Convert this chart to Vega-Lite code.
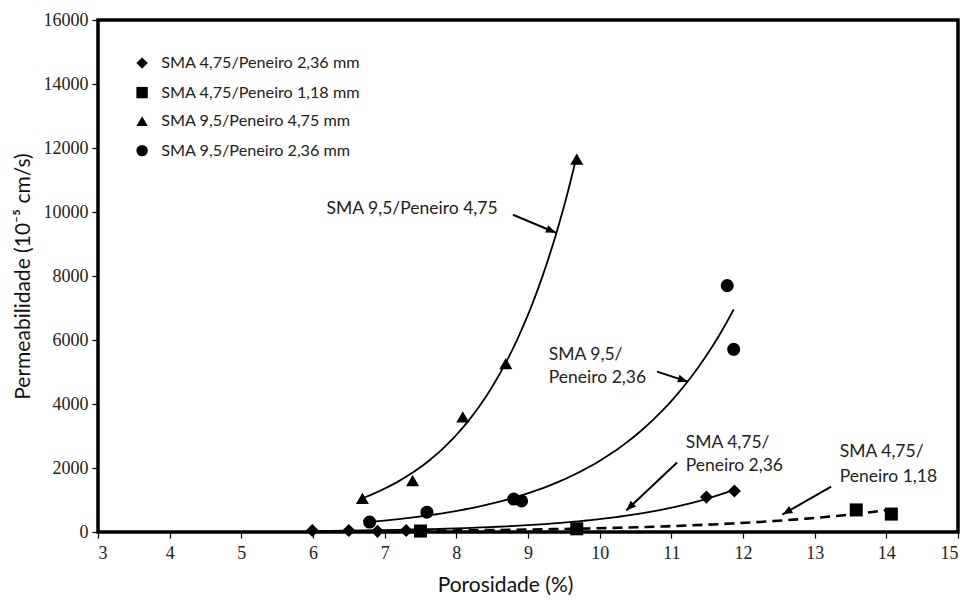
{
  "$schema": "https://vega.github.io/schema/vega-lite/v6.json",
  "width": 860,
  "height": 512,
  "autosize": "none",
  "padding": {"left": 98, "top": 20, "right": 10, "bottom": 69},
  "background": "white",
  "config": {
    "view": {"stroke": "black", "strokeWidth": 3.5},
    "axis": {
      "grid": false,
      "domain": false,
      "tickColor": "black",
      "tickSize": 6,
      "tickWidth": 1.2,
      "labelFont": "Liberation Sans Narrow",
      "labelFontSize": 18,
      "labelColor": "#222222",
      "labelPadding": 4,
      "titleFont": "Lato",
      "titleFontSize": 21,
      "titleFontWeight": "normal",
      "titleColor": "#111111"
    }
  },
  "datasets": {
    "medidas": [
      {"serie": "SMA 4,75/Peneiro 2,36 mm", "porosidade": 5.99, "permeabilidade": 50},
      {"serie": "SMA 4,75/Peneiro 2,36 mm", "porosidade": 6.50, "permeabilidade": 50},
      {"serie": "SMA 4,75/Peneiro 2,36 mm", "porosidade": 6.90, "permeabilidade": 20},
      {"serie": "SMA 4,75/Peneiro 2,36 mm", "porosidade": 7.30, "permeabilidade": 50},
      {"serie": "SMA 4,75/Peneiro 2,36 mm", "porosidade": 11.49, "permeabilidade": 1090},
      {"serie": "SMA 4,75/Peneiro 2,36 mm", "porosidade": 11.88, "permeabilidade": 1280},
      {"serie": "SMA 4,75/Peneiro 1,18 mm", "porosidade": 7.50, "permeabilidade": 30},
      {"serie": "SMA 4,75/Peneiro 1,18 mm", "porosidade": 9.68, "permeabilidade": 100},
      {"serie": "SMA 4,75/Peneiro 1,18 mm", "porosidade": 13.58, "permeabilidade": 690},
      {"serie": "SMA 4,75/Peneiro 1,18 mm", "porosidade": 14.07, "permeabilidade": 560},
      {"serie": "SMA 9,5/Peneiro 4,75 mm", "porosidade": 6.69, "permeabilidade": 1050},
      {"serie": "SMA 9,5/Peneiro 4,75 mm", "porosidade": 7.39, "permeabilidade": 1610},
      {"serie": "SMA 9,5/Peneiro 4,75 mm", "porosidade": 8.09, "permeabilidade": 3600},
      {"serie": "SMA 9,5/Peneiro 4,75 mm", "porosidade": 8.69, "permeabilidade": 5260},
      {"serie": "SMA 9,5/Peneiro 4,75 mm", "porosidade": 9.68, "permeabilidade": 11650},
      {"serie": "SMA 9,5/Peneiro 2,36 mm", "porosidade": 6.79, "permeabilidade": 310},
      {"serie": "SMA 9,5/Peneiro 2,36 mm", "porosidade": 7.59, "permeabilidade": 620},
      {"serie": "SMA 9,5/Peneiro 2,36 mm", "porosidade": 8.80, "permeabilidade": 1030},
      {"serie": "SMA 9,5/Peneiro 2,36 mm", "porosidade": 8.91, "permeabilidade": 970},
      {"serie": "SMA 9,5/Peneiro 2,36 mm", "porosidade": 11.78, "permeabilidade": 7700},
      {"serie": "SMA 9,5/Peneiro 2,36 mm", "porosidade": 11.87, "permeabilidade": 5710}
    ],
    "rotulos": [
      {"texto": "SMA 9,5/Peneiro 4,75", "px": 6.19, "py": 10100},
      {"texto": "SMA 9,5/", "px": 9.29, "py": 5526},
      {"texto": "Peneiro 2,36", "px": 9.29, "py": 4808},
      {"texto": "SMA 4,75/", "px": 11.20, "py": 2794},
      {"texto": "Peneiro 2,36", "px": 11.20, "py": 2076},
      {"texto": "SMA 4,75/", "px": 13.35, "py": 2513},
      {"texto": "Peneiro 1,18", "px": 13.35, "py": 1733}
    ],
    "setas": [
      {"x1": 8.79, "y1": 9913, "x2": 9.39, "y2": 9351, "angulo": 22.7},
      {"x1": 10.80, "y1": 5011, "x2": 11.23, "y2": 4699, "angulo": 17.9},
      {"x1": 11.08, "y1": 2170, "x2": 10.37, "y2": 671, "angulo": 136.7},
      {"x1": 13.23, "y1": 1421, "x2": 12.55, "y2": 546, "angulo": 150.3}
    ]
  },
  "layer": [
    {
      "data": {"name": "medidas"},
      "transform": [
        {"filter": "datum.serie !== 'SMA 4,75/Peneiro 1,18 mm'"},
        {"regression": "permeabilidade", "on": "porosidade", "groupby": ["serie"], "method": "exp"}
      ],
      "mark": {"type": "line", "color": "black", "strokeWidth": 1.8, "clip": true},
      "encoding": {
        "x": {
          "field": "porosidade", "type": "quantitative",
          "scale": {"domain": [3, 15], "nice": false},
          "axis": {"values": [3, 4, 5, 6, 7, 8, 9, 10, 11, 12, 13, 14, 15], "format": "d", "title": "Porosidade (%)", "titlePadding": 12, "labelPadding": 6, "titleX": 407, "titleAnchor": null, "titleAlign": "center"}
        },
        "y": {
          "field": "permeabilidade", "type": "quantitative",
          "scale": {"domain": [0, 16000], "nice": false},
          "axis": {"values": [0, 2000, 4000, 6000, 8000, 10000, 12000, 14000, 16000], "title": "Permeabilidade (10⁻⁵ cm/s)", "format": "d", "titlePadding": 10}
        },
        "detail": {"field": "serie"}
      }
    },
    {
      "data": {"name": "medidas"},
      "transform": [
        {"filter": "datum.serie === 'SMA 4,75/Peneiro 1,18 mm'"},
        {"regression": "permeabilidade", "on": "porosidade", "method": "exp"}
      ],
      "mark": {"type": "line", "color": "black", "strokeWidth": 2.6, "strokeDash": [10, 6], "clip": true},
      "encoding": {
        "x": {"field": "porosidade", "type": "quantitative", "scale": {"domain": [3, 15], "nice": false}},
        "y": {"field": "permeabilidade", "type": "quantitative", "scale": {"domain": [0, 16000], "nice": false}}
      }
    },
    {
      "data": {"name": "medidas"},
      "mark": {"type": "point", "filled": true, "color": "black", "opacity": 1, "size": 170},
      "encoding": {
        "x": {"field": "porosidade", "type": "quantitative", "scale": {"domain": [3, 15], "nice": false}},
        "y": {"field": "permeabilidade", "type": "quantitative", "scale": {"domain": [0, 16000], "nice": false}},
        "shape": {
          "field": "serie", "type": "nominal",
          "scale": {
            "domain": ["SMA 4,75/Peneiro 2,36 mm", "SMA 4,75/Peneiro 1,18 mm", "SMA 9,5/Peneiro 4,75 mm", "SMA 9,5/Peneiro 2,36 mm"],
            "range": ["diamond", "square", "triangle-up", "circle"]
          },
          "legend": {
            "title": null,
            "orient": "none",
            "legendX": 36,
            "legendY": 35,
            "padding": 0,
            "labelFont": "Lato",
            "labelFontSize": 16.2,
            "labelColor": "#222222",
            "labelOffset": 11,
            "labelLimit": 0,
            "symbolSize": 130,
            "symbolFillColor": "black",
            "symbolStrokeColor": "black",
            "rowPadding": 11.5
          }
        }
      }
    },
    {
      "data": {"name": "setas"},
      "mark": {"type": "rule", "color": "black", "strokeWidth": 2},
      "encoding": {
        "x": {"field": "x1", "type": "quantitative", "scale": {"domain": [3, 15], "nice": false}},
        "y": {"field": "y1", "type": "quantitative", "scale": {"domain": [0, 16000], "nice": false}},
        "x2": {"field": "x2"},
        "y2": {"field": "y2"}
      }
    },
    {
      "data": {"name": "setas"},
      "mark": {"type": "point", "filled": true, "color": "black", "opacity": 1, "shape": "M0,0L-2,-0.8L-2,0.8Z", "size": 100},
      "encoding": {
        "x": {"field": "x2", "type": "quantitative", "scale": {"domain": [3, 15], "nice": false}},
        "y": {"field": "y2", "type": "quantitative", "scale": {"domain": [0, 16000], "nice": false}},
        "angle": {"field": "angulo", "type": "quantitative", "scale": null}
      }
    },
    {
      "data": {"name": "rotulos"},
      "mark": {"type": "text", "align": "left", "baseline": "middle", "font": "Lato", "fontSize": 17.5, "color": "#222222"},
      "encoding": {
        "x": {"field": "px", "type": "quantitative", "scale": {"domain": [3, 15], "nice": false}},
        "y": {"field": "py", "type": "quantitative", "scale": {"domain": [0, 16000], "nice": false}},
        "text": {"field": "texto"}
      }
    }
  ]
}
